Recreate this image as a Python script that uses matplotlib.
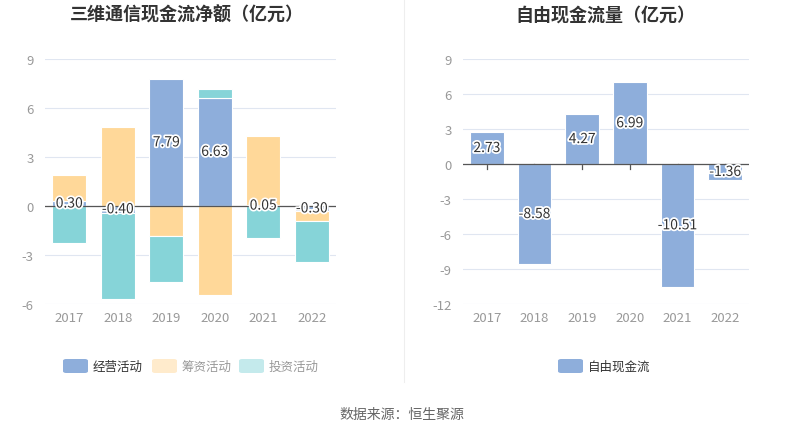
import matplotlib
matplotlib.use("Agg")
import matplotlib.pyplot as plt
import matplotlib.patheffects as pe
from matplotlib.patches import FancyBboxPatch
from matplotlib.lines import Line2D
import numpy as np

plt.rcParams['font.family'] = ['Noto Sans CJK SC', 'DejaVu Sans']

years = ['2017', '2018', '2019', '2020', '2021', '2022']
operating = [0.30, -0.40, 7.79, 6.63, 0.05, -0.30]
financing = [1.62, 4.86, -1.82, -5.45, 4.26, -0.64]
investing = [-2.28, -5.30, -2.81, 0.53, -1.94, -2.51]
free_cf = [2.73, -8.58, 4.27, 6.99, -10.51, -1.36]

left_ticks = [-6, -3, 0, 3, 6, 9]
right_ticks = [-12, -9, -6, -3, 0, 3, 6, 9]

BLUE = '#8eaedb'
ORANGE = '#ffd899'
TEAL = '#86d4d8'
GRID = '#e0e6f1'
TICK = '#999999'

W, H = 802, 435
fig = plt.figure(figsize=(W / 100, H / 100), dpi=100)


def px_axes(x0, y0, x1, y1):
    return fig.add_axes([x0 / W, 1 - y1 / H, (x1 - x0) / W, (y1 - y0) / H])


def style(ax, ticks):
    ax.set_ylim(ticks[0], ticks[-1])
    ax.set_yticks(ticks)
    ax.set_yticklabels([str(t) for t in ticks], color=TICK, fontsize=9.5)
    ax.set_xlim(-0.5, len(years) - 0.5)
    ax.set_xticks(range(len(years)))
    ax.set_xticklabels(years, color=TICK, fontsize=9.5)
    ax.tick_params(axis='both', length=0, pad=8)
    ax.tick_params(axis='x', pad=5)
    for s in ax.spines.values():
        s.set_visible(False)
    ax.grid(axis='y', color=GRID, linewidth=0.8)
    ax.set_axisbelow(True)
    ax.axhline(0, color='#555555', linewidth=0.9, zorder=5)
    ax.set_facecolor('none')


def zero_ticks(ax, ticks):
    span = ticks[-1] - ticks[0]
    h = span * 5 / 245
    for i in range(len(years)):
        ax.plot([i, i], [0, -h], color='#555555', linewidth=0.9, zorder=1)


stroke = [pe.withStroke(linewidth=2.5, foreground='white')]
bw = 0.7

# Left chart
ax1 = px_axes(45, 60, 336, 305)
style(ax1, left_ticks)
zero_ticks(ax1, left_ticks)
x = np.arange(len(years))
pos_base = np.zeros(len(years))
neg_base = np.zeros(len(years))
for vals, col in [(operating, BLUE), (financing, ORANGE), (investing, TEAL)]:
    v = np.array(vals)
    base = np.where(v >= 0, pos_base, neg_base)
    ax1.bar(x, v, bw, bottom=base, color=col, edgecolor='white', linewidth=0.8, zorder=3)
    pos_base = pos_base + np.where(v >= 0, v, 0)
    neg_base = neg_base + np.where(v < 0, v, 0)
for i, v in enumerate(operating):
    ax1.text(i, v / 2, f'{v:.2f}', ha='center', va='center', fontsize=10,
             color='#333333', path_effects=stroke, zorder=6)

# Right chart
ax2 = px_axes(463, 60, 749, 305)
style(ax2, right_ticks)
zero_ticks(ax2, right_ticks)
ax2.bar(x, free_cf, bw, color=BLUE, edgecolor='white', linewidth=0.8, zorder=3)
for i, v in enumerate(free_cf):
    ax2.text(i, v / 2, f'{v:.2f}', ha='center', va='center', fontsize=10,
             color='#333333', path_effects=stroke, zorder=6)

# Titles
fig.text(187 / W, 1 - 15 / H, '三维通信现金流净额（亿元）', ha='center', va='center',
         fontsize=13, fontweight='bold', color='#333333')
fig.text(605 / W, 1 - 15 / H, '自由现金流量（亿元）', ha='center', va='center',
         fontsize=13, fontweight='bold', color='#333333')

# Divider
fig.add_artist(Line2D([404 / W, 404 / W], [1 - 383 / H, 1.0], color='#eeeeee', linewidth=0.8))


def legend_item(x0, label, col, tcol):
    sw, sh = 25, 14
    yc = 367
    p = FancyBboxPatch((x0 / W, 1 - (yc + sh / 2) / H), sw / W, sh / H,
                       boxstyle='round,pad=0,rounding_size=0.004',
                       transform=fig.transFigure, facecolor=col, edgecolor='none')
    fig.add_artist(p)
    fig.text((x0 + sw + 5) / W, 1 - yc / H, label, ha='left', va='center',
             fontsize=9, color=tcol)


legend_item(63, '经营活动', BLUE, '#333333')
legend_item(152, '筹资活动', '#ffebcc', '#999999')
legend_item(239, '投资活动', '#c4eaec', '#999999')
legend_item(558, '自由现金流', BLUE, '#333333')

fig.text(402 / W, 1 - 415 / H, '数据来源：恒生聚源', ha='center', va='center',
         fontsize=10, color='#666666')

fig.savefig('out.png', dpi=100)
